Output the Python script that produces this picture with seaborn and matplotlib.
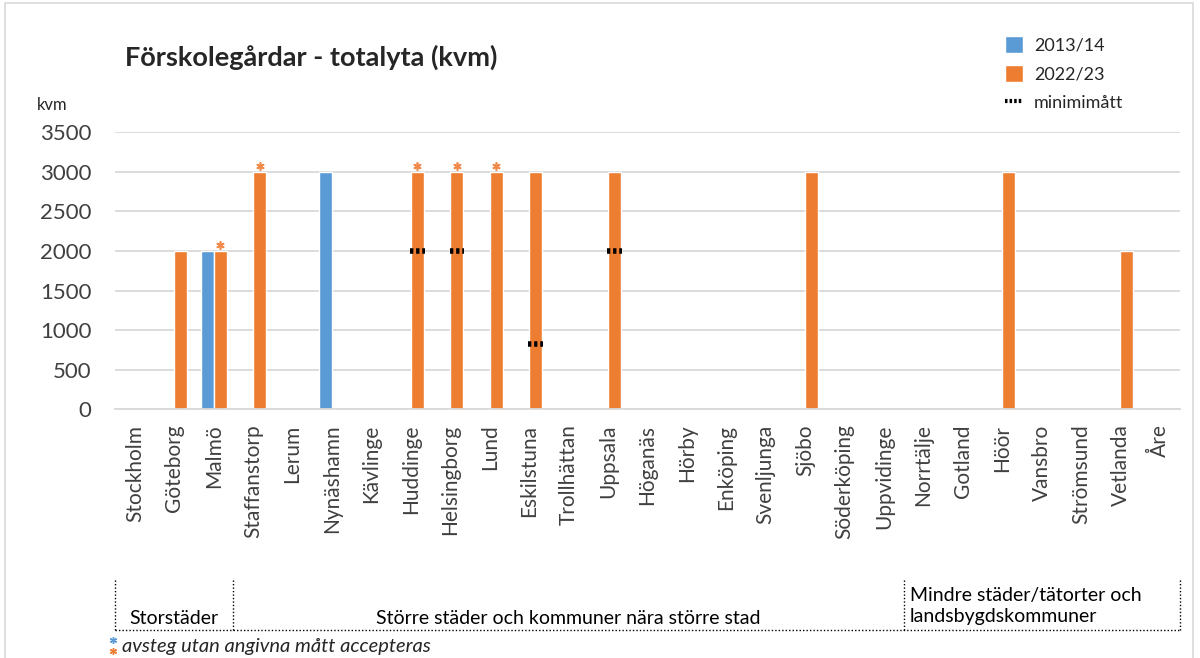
import numpy as np
import pandas as pd
import seaborn as sns
import matplotlib.pyplot as plt
import matplotlib.transforms as mtransforms
from matplotlib.lines import Line2D
from matplotlib.patches import Patch, Rectangle

# --- data ---
kommuner = ['Stockholm', 'Göteborg', 'Malmö', 'Staffanstorp', 'Lerum', 'Nynäshamn',
            'Kävlinge', 'Huddinge', 'Helsingborg', 'Lund', 'Eskilstuna', 'Trollhättan',
            'Uppsala', 'Höganäs', 'Hörby', 'Enköping', 'Svenljunga', 'Sjöbo',
            'Söderköping', 'Uppvidinge', 'Norrtälje', 'Gotland', 'Höör', 'Vansbro',
            'Strömsund', 'Vetlanda', 'Åre']
periods = ['2013/14', '2022/23']

yta_2013 = {'Malmö': 2000, 'Nynäshamn': 3000}
yta_2022 = {'Göteborg': 2000, 'Malmö': 2000, 'Staffanstorp': 3000, 'Huddinge': 3000,
            'Helsingborg': 3000, 'Lund': 3000, 'Eskilstuna': 3000, 'Uppsala': 3000,
            'Sjöbo': 3000, 'Höör': 3000, 'Vetlanda': 2000}
minimimatt = {'Huddinge': 2000, 'Helsingborg': 2000, 'Eskilstuna': 830, 'Uppsala': 2000}
avsteg_2022 = ['Malmö', 'Staffanstorp', 'Huddinge', 'Helsingborg', 'Lund']

grupper = ['Storstäder', 'Större städer och kommuner nära större stad',
           'Mindre städer/tätorter och\nlandsbygdskommuner']
grupp_start = ['Stockholm', 'Staffanstorp', 'Norrtälje']

colors = {'2013/14': '#5B9BD5', '2022/23': '#ED7D31'}

rows = [(k, '2013/14', v) for k, v in yta_2013.items()] + \
       [(k, '2022/23', v) for k, v in yta_2022.items()]
df = pd.DataFrame(rows, columns=['kommun', 'period', 'kvm'])

sns.set_style('white')
plt.rcParams['font.family'] = ['Lato', 'DejaVu Sans']

fig = plt.figure(figsize=(12, 6.58), dpi=100)
ax = fig.add_axes([0.096, 0.378, 0.887, 0.421])

sns.barplot(data=df, x='kommun', y='kvm', hue='period', order=kommuner,
            hue_order=periods, palette=colors, dodge=True, width=0.66,
            saturation=1, ax=ax, legend=False)

ax.set_ylim(0, 3500)
ax.set_xlim(-0.5, len(kommuner) - 0.5)
ax.set_yticks(np.arange(0, 3501, 500))
ax.yaxis.grid(True, color='#d9d9d9', linewidth=1.3)
ax.set_axisbelow(True)
for s in ['top', 'right', 'left']:
    ax.spines[s].set_visible(False)
ax.spines['bottom'].set_color('#d9d9d9')
ax.spines['bottom'].set_linewidth(1.3)
ax.set_xlabel('')
ax.set_ylabel('')
ax.tick_params(axis='y', labelsize=16, length=0, pad=17, labelcolor='#404040')
ax.tick_params(axis='x', labelsize=15, length=0, pad=11, labelcolor='#404040')
plt.setp(ax.get_xticklabels(), rotation=90, va='top', ha='center')

# orange bars: minimum markers and asterisks
orange_bars = {}
for p in ax.containers[1]:
    if np.isnan(p.get_height()) or p.get_height() == 0:
        continue
    idx = int(round(p.get_x() + p.get_width() / 2))
    orange_bars[kommuner[idx]] = p

for k, v in minimimatt.items():
    p = orange_bars[k]
    ax.hlines(v, p.get_x() - 0.02, p.get_x() + p.get_width() + 0.02, colors='black',
              linewidth=4, linestyles=(0, (0.6, 0.5)), zorder=5)

for k in avsteg_2022:
    p = orange_bars[k]
    ax.plot(p.get_x() + p.get_width() / 2, p.get_height() + 80, marker=(6, 2, 0),
            markersize=6, markeredgewidth=1.2, color='#F08A4B', clip_on=False)

# group boxes under the tick labels
trans = mtransforms.blended_transform_factory(ax.transData, ax.transAxes)
bounds = [kommuner.index(g) - 0.5 for g in grupp_start] + [len(kommuner) - 0.5]
y_top, y_bot = -0.618, -0.796
dot = dict(color='black', linewidth=1, linestyle=(0, (1, 1.5)), transform=trans, clip_on=False)
for b in bounds:
    ax.add_line(Line2D([b, b], [y_top, y_bot], **dot))
ax.add_line(Line2D([bounds[0], bounds[-1]], [y_bot, y_bot], **dot))
ax.text((bounds[0] + bounds[1]) / 2, -0.755, grupper[0], transform=trans,
        ha='center', va='center', fontsize=14, color='black')
ax.text((bounds[1] + bounds[2]) / 2, -0.755, grupper[1], transform=trans,
        ha='center', va='center', fontsize=14, color='black')
ax.text(bounds[2] + 0.15, -0.71, grupper[2], transform=trans,
        ha='left', va='center', fontsize=14, color='black', linespacing=1.35)

# titles and notes
fig.text(0.104, 0.913, 'Förskolegårdar - totalyta (kvm)', fontsize=19.5, fontweight='bold',
         ha='left', va='center')
fig.text(0.031, 0.84, 'kvm', fontsize=12, ha='left', va='center')
fig.add_artist(Line2D([0.094], [0.027], marker=(6, 2, 0), markersize=5, markeredgewidth=1,
                      color='#5B9BD5', transform=fig.transFigure))
fig.add_artist(Line2D([0.094], [0.011], marker=(6, 2, 0), markersize=5, markeredgewidth=1,
                      color='#ED7D31', transform=fig.transFigure))
fig.text(0.102, 0.018, 'avsteg utan angivna mått accepteras', fontsize=14.5,
         style='italic', ha='left', va='center')

handles = [Patch(facecolor=colors['2013/14'], label='2013/14'),
           Patch(facecolor=colors['2022/23'], label='2022/23'),
           Line2D([], [], color='black', linewidth=3, linestyle=(0, (0.6, 0.5)),
                  label='minimimått')]
fig.legend(handles=handles, loc='upper left', bbox_to_anchor=(0.824, 0.97), frameon=False,
           fontsize=13, handlelength=1.0, handleheight=1.1, handletextpad=0.6,
           labelspacing=0.6)

fig.add_artist(Rectangle((0.004, -0.01), 0.99, 1.005, transform=fig.transFigure,
                         fill=False, edgecolor='#d9d9d9', linewidth=1.2))

fig.savefig('out.png', dpi=100)
